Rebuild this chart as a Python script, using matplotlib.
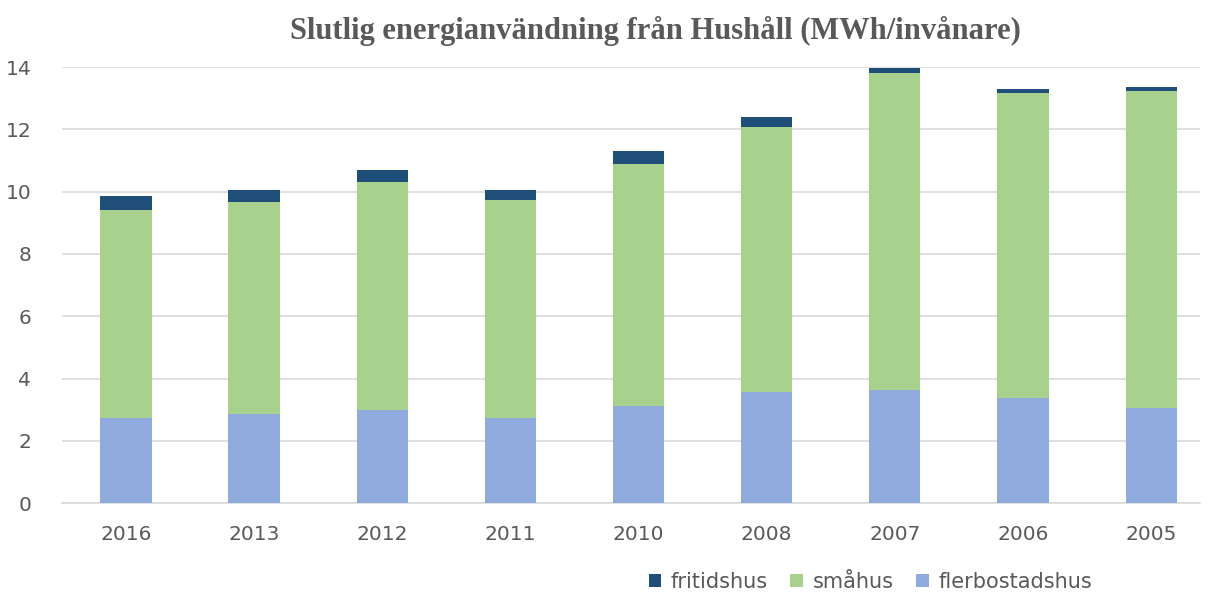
import matplotlib.pyplot as plt
import numpy as np

# data
years = ["2016", "2013", "2012", "2011", "2010", "2008", "2007", "2006", "2005"]
flerbostadshus = [2.74, 2.87, 3.00, 2.74, 3.13, 3.58, 3.64, 3.39, 3.07]
smahus = [6.66, 6.80, 7.31, 6.98, 7.77, 8.49, 10.18, 9.77, 10.16]
fritidshus = [0.46, 0.38, 0.40, 0.33, 0.40, 0.33, 0.14, 0.14, 0.14]

plt.rcParams['font.family'] = ['DejaVu Sans']
grey = "#595959"

fig = plt.figure(figsize=(12.12, 5.94), dpi=100)
ax = fig.add_axes([0.051, 0.153, 0.939, 0.734])

x = np.arange(len(years))
w = 0.4
b1 = ax.bar(x, flerbostadshus, w, color="#8FAADC", label="flerbostadshus", zorder=3)
bottom2 = np.array(flerbostadshus)
b2 = ax.bar(x, smahus, w, bottom=bottom2, color="#A9D18E", label="småhus", zorder=3)
bottom3 = bottom2 + np.array(smahus)
b3 = ax.bar(x, fritidshus, w, bottom=bottom3, color="#1F4E79", label="fritidshus", zorder=3)

ax.set_ylim(0, 14)
ax.set_xlim(-0.5, 8.38)
ax.set_yticks(range(0, 15, 2))
ax.set_xticks(x)
ax.set_xticklabels(years)
ax.yaxis.grid(True, color="#D9D9D9", linewidth=1.2, zorder=0)
ax.tick_params(length=0, labelsize=14.5, colors=grey)
ax.tick_params(axis="x", pad=16)
ax.tick_params(axis="y", pad=22)
for s in ["top", "right", "left"]:
    ax.spines[s].set_visible(False)
ax.spines["bottom"].set_color("#D9D9D9")
ax.spines["bottom"].set_linewidth(1.2)

fig.text(0.541, 0.948, "Slutlig energianvändning från Hushåll (MWh/invånare)",
         fontsize=22, fontweight="bold", color=grey, family="Liberation Serif",
         ha="center", va="center")

leg = fig.legend(handles=[b3, b2, b1], labels=["fritidshus", "småhus", "flerbostadshus"],
                 loc="center", bbox_to_anchor=(0.718, 0.02), ncol=3, frameon=False,
                 fontsize=15, handlelength=0.6, handleheight=0.6, columnspacing=1.1,
                 handletextpad=0.45)
for t in leg.get_texts():
    t.set_color(grey)

fig.savefig("out.png", dpi=100)
